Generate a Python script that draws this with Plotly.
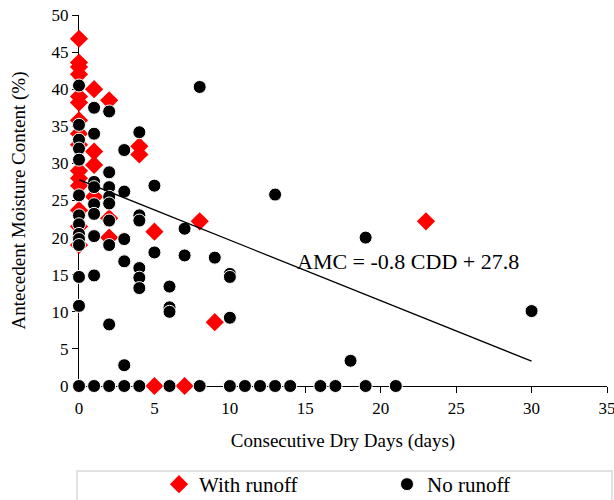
import plotly.graph_objects as go

# With runoff (red diamonds)
runoff_x = [0]*15 + [1]*4 + [2]*3 + [4]*2 + [5, 5, 7, 8, 9, 23]
runoff_y = [46.8, 43.6, 43.0, 42.0, 39.0, 38.2, 35.8, 34.0, 32.5, 29.0, 28.0, 27.0, 23.7, 21.5, 19.0,
            40.0, 31.6, 29.8, 25.5,
            38.5, 22.6, 20.0,
            32.3, 31.2,
            20.8, 0.0, 0.0, 22.2, 8.6, 22.2]

# No runoff (black circles)
norun_x = ([0]*14 + [1]*9 + [2]*9 + [3]*6 + [4]*7 + [5]*2 + [6]*4 + [7]*2 + [8]*2 + [9]
           + [10]*4 + [11, 12, 13, 13, 14, 16, 17, 18, 19, 19, 21, 30])
norun_y = ([40.5, 35.2, 33.2, 32.0, 30.5, 25.7, 23.0, 21.8, 20.5, 19.8, 19.0, 14.7, 10.8, 0.0]
           + [37.5, 34.0, 27.5, 26.8, 24.5, 23.2, 20.2, 14.9, 0.0]
           + [37.0, 28.8, 26.8, 25.5, 24.6, 22.3, 19.0, 8.3, 0.0]
           + [31.8, 26.2, 19.8, 16.8, 2.8, 0.0]
           + [34.2, 23.0, 22.3, 15.9, 14.6, 13.2, 0.0]
           + [27.0, 18.0]
           + [13.4, 10.6, 10.0, 0.0]
           + [21.2, 17.6]
           + [40.3, 0.0]
           + [17.3]
           + [15.1, 14.7, 9.2, 0.0]
           + [0.0, 0.0, 25.8, 0.0, 0.0, 0.0, 0.0, 3.4, 20.0, 0.0, 0.0, 10.1])

# Trend line
trend_slope = -0.815
trend_intercept = 27.8
trend_x = [0, 30]
trend_y = [trend_intercept + trend_slope * v for v in trend_x]

FONT = "Liberation Serif"

fig = go.Figure()
fig.add_trace(go.Scatter(
    x=runoff_x, y=runoff_y, mode="markers", name="With runoff",
    marker=dict(symbol="diamond", size=14, color="#FF0000", line=dict(width=0)),
    cliponaxis=False,
))
fig.add_trace(go.Scatter(
    x=norun_x, y=norun_y, mode="markers", name="No runoff",
    marker=dict(symbol="circle", size=13, color="#000000", line=dict(width=1, color="white")),
    cliponaxis=False,
))
fig.add_trace(go.Scatter(
    x=trend_x, y=trend_y, mode="lines", showlegend=False,
    line=dict(color="black", width=1.3), hoverinfo="skip",
))

fig.add_annotation(
    x=14.35, y=16.8, xref="x", yref="y", text="AMC = -0.8 CDD + 27.8",
    showarrow=False, xanchor="left", yanchor="middle",
    font=dict(family=FONT, size=22, color="black"),
)

# legend box
fig.add_shape(type="rect", xref="paper", yref="paper",
              x0=(77 - 79) / 528, x1=(612 - 79) / 528,
              y0=1 - (471 - 15) / 371, y1=1 - (520 - 15) / 371,
              line=dict(color="#D9D9D9", width=1.5), fillcolor="rgba(0,0,0,0)", layer="below")

fig.update_layout(
    width=614, height=500,
    margin=dict(l=79, r=7, t=15, b=114, autoexpand=False),
    paper_bgcolor="white", plot_bgcolor="white",
    font=dict(family=FONT, size=17, color="black"),
    showlegend=True,
    legend=dict(
        orientation="h", x=(159 - 79) / 528, xanchor="left",
        y=1 - (464 - 15) / 371, yanchor="top",
        font=dict(family=FONT, size=21, color="black"),
        entrywidth=183, entrywidthmode="pixels",
        bgcolor="rgba(0,0,0,0)", borderwidth=0,
    ),
    xaxis=dict(
        range=[0, 35], dtick=5, tick0=0, showgrid=False, zeroline=False,
        showline=True, linecolor="black", linewidth=1.3,
        ticks="outside", ticklen=6, tickcolor="black", tickwidth=1.3,
        tickfont=dict(family=FONT, size=17, color="black"),
        ticklabeloverflow="allow",
        title=dict(text="Consecutive Dry Days (days)", font=dict(family=FONT, size=19, color="black"), standoff=17),
        layer="below traces",
    ),
    yaxis=dict(
        range=[0, 50], dtick=5, tick0=0, showgrid=False, zeroline=False,
        showline=True, linecolor="black", linewidth=1.3,
        ticks="outside", ticklen=6, tickcolor="black", tickwidth=1.3,
        tickfont=dict(family=FONT, size=17, color="black"),
        ticklabeloverflow="allow",
        title=dict(text="Antecedent Moisture Content (%)", font=dict(family=FONT, size=19, color="black"), standoff=20),
        layer="below traces",
    ),
)

fig.write_html("out.html")
